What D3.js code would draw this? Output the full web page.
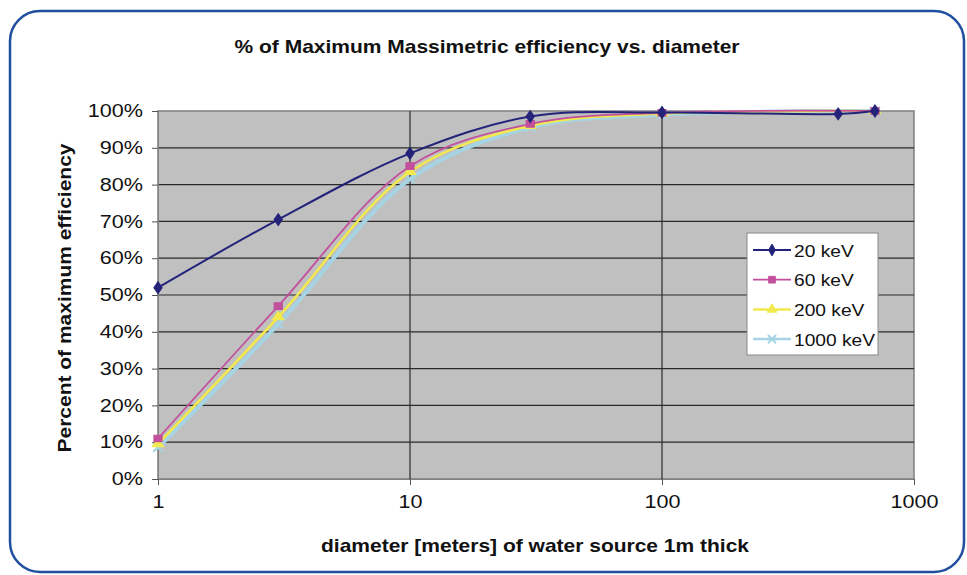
<!DOCTYPE html>
<html><head><meta charset="utf-8">
<script src="https://cdn.jsdelivr.net/npm/d3@7"></script>
<style>body{margin:0;background:#fff;}svg{display:block;font-family:Arial,"Liberation Sans",sans-serif;}</style>
</head><body>
<svg id="c" width="967" height="575"></svg>
<script>
const diameters = [1, 3, 10, 30, 100, 700];
const diameters20 = [1, 3, 10, 30, 100, 500, 700];
const seriesNames = ["20 keV", "60 keV", "200 keV", "1000 keV"];
const kev20 = [52, 70.5, 88.5, 98.5, 99.6, 99.2, 100];
const kev60 = [11, 47, 85, 96.5, 99.5, 100];
const kev200 = [9.5, 44, 83.5, 96, 99.3, 100];
const kev1000 = [8.5, 42, 81.5, 95.5, 99, 100];
const yTicks = [0,10,20,30,40,50,60,70,80,90,100];
const xTicks = [1, 10, 100, 1000];

const SX = 1.2; // horizontal stretch of text seen in the reference
const svg = d3.select("#c");
svg.append("rect").attr("x",10).attr("y",11).attr("width",954).attr("height",561)
  .attr("rx",30).attr("fill","#fff").attr("stroke","#1f4f9e").attr("stroke-width",2.5);

const L=158,R=914,T=111,B=479;
const x = d3.scaleLog().domain([1,1000]).range([L,R]);
const y = d3.scaleLinear().domain([0,100]).range([B,T]);

svg.append("rect").attr("x",L).attr("y",T).attr("width",R-L).attr("height",B-T)
  .attr("fill","#c0c0c0").attr("stroke","#808080").attr("stroke-width",1.5);

svg.append("g").selectAll("line").data(yTicks.filter(d=>d>0&&d<100)).join("line")
  .attr("x1",L).attr("x2",R).attr("y1",d=>y(d)).attr("y2",d=>y(d))
  .attr("stroke","#2a2a2a").attr("stroke-width",1.2);
svg.append("g").selectAll("line").data([10,100]).join("line")
  .attr("y1",T).attr("y2",B).attr("x1",d=>x(d)).attr("x2",d=>x(d))
  .attr("stroke","#2a2a2a").attr("stroke-width",1.2);

const yAxis = d3.axisLeft(y).tickValues(yTicks).tickFormat(d=>d+"%").tickSize(6).tickPadding(9);
const gy = svg.append("g").attr("transform",`translate(${L},0)`).call(yAxis);
gy.select(".domain").attr("stroke","#808080");
gy.selectAll(".tick line").attr("stroke","#555");
gy.selectAll("text").attr("font-size",18).attr("fill","#111")
  .attr("x",-15/SX).attr("transform",`scale(${SX},1)`);

const xAxis = d3.axisBottom(x).tickValues(xTicks).tickFormat(d3.format("d")).tickSize(6).tickPadding(10);
const gx = svg.append("g").attr("transform",`translate(0,${B})`).call(xAxis);
gx.select(".domain").attr("stroke","#808080");
gx.selectAll(".tick line").attr("stroke","#555");
gx.selectAll("text").attr("font-size",18).attr("fill","#111").attr("transform",`scale(${SX},1)`);

const series = [
  {name:seriesNames[0], xs:diameters20, ys:kev20, color:"#23237a", w:2, marker:"diamond"},
  {name:seriesNames[1], xs:diameters, ys:kev60, color:"#c2509c", w:1.8, marker:"square"},
  {name:seriesNames[2], xs:diameters, ys:kev200, color:"#f2ea4c", w:2.5, marker:"triangle"},
  {name:seriesNames[3], xs:diameters, ys:kev1000, color:"#a6d4e4", w:4, marker:"x"}
];
const line = d3.line().x(d=>x(d[0])).y(d=>y(d[1])).curve(d3.curveCatmullRom.alpha(0.5));
const symType = {diamond:d3.symbolDiamond, square:d3.symbolSquare, triangle:d3.symbolTriangle, x:d3.symbolX};
const symSize = {diamond:40, square:45, triangle:40, x:45};
[...series].reverse().forEach(s=>{
  const pts = s.xs.map((v,i)=>[v,s.ys[i]]);
  svg.append("path").datum(pts).attr("d",line).attr("fill","none")
    .attr("stroke",s.color).attr("stroke-width",s.w);
  svg.append("g").selectAll("path").data(pts).join("path")
    .attr("transform",d=>`translate(${x(d[0])},${y(d[1])}) scale(1.2,1)`)
    .attr("d",d3.symbol().type(symType[s.marker]).size(symSize[s.marker]))
    .attr("fill",s.marker==="x"?"none":s.color)
    .attr("stroke",s.color).attr("stroke-width",s.marker==="x"?2:1);
});

const lg = svg.append("g").attr("transform","translate(747,233)");
lg.append("rect").attr("width",131).attr("height",122).attr("fill","#fff").attr("stroke","#888").attr("stroke-width",1);
series.forEach((s,i)=>{
  const yy = 17 + i*29.7;
  const g = lg.append("g").attr("transform",`translate(0,${yy})`);
  g.append("line").attr("x1",6).attr("x2",44).attr("stroke",s.color).attr("stroke-width",Math.min(s.w,2.5));
  g.append("path").attr("transform","translate(25,0)")
    .attr("d",d3.symbol().type(symType[s.marker]).size(symSize[s.marker]))
    .attr("fill",s.marker==="x"?"none":s.color).attr("stroke",s.color).attr("stroke-width",s.marker==="x"?2:1);
  g.append("text").attr("transform",`translate(47,6.5) scale(${SX},1)`).attr("font-size",16).attr("fill","#111").text(s.name);
});

function label(txt, tr){
  svg.append("text").attr("transform",tr).attr("text-anchor","middle")
    .attr("font-size",17.5).attr("font-weight","bold").attr("fill","#111").text(txt);
}
label("% of Maximum Massimetric efficiency vs. diameter", `translate(487,53) scale(${SX},1)`);
label("diameter [meters] of water source 1m thick", `translate(535,552) scale(${SX},1)`);
label("Percent of maximum efficiency", `translate(71,298) rotate(-90) scale(${SX},1)`);
</script>
</body></html>
